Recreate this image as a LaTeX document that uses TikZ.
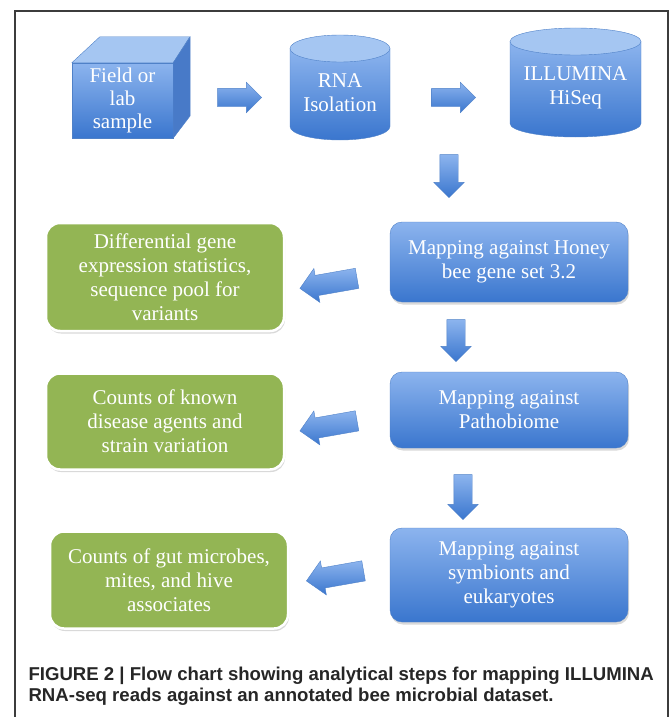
\documentclass[tikz,border=0pt]{standalone}
\usepackage{fontspec}
\setmainfont{Liberation Serif}
\newfontfamily\capfont{Liberation Sans}
\usetikzlibrary{shapes.arrows,shadows}
\definecolor{boxgreen}{RGB}{147,181,84}
\definecolor{bluetop}{RGB}{140,180,238}
\definecolor{bluebot}{RGB}{58,118,206}
\definecolor{blueedge}{RGB}{79,129,200}
\definecolor{cyltop}{RGB}{165,198,242}
\definecolor{cubeside}{RGB}{72,122,200}
\definecolor{framecol}{RGB}{60,60,60}
\tikzset{
  txt/.style={text=white, font=\fontsize{21}{24}\selectfont, align=center},
  bluebox/.style={txt, rounded corners=12pt, draw=blueedge, top color=bluetop, bottom color=bluebot,
    minimum width=238pt, minimum height=#1, drop shadow={opacity=0.3, shadow xshift=1pt, shadow yshift=-2.5pt}},
  greenbox/.style={txt, rounded corners=14pt, draw=white, line width=2.5pt, fill=boxgreen,
    minimum width=238pt, minimum height=#1, drop shadow={opacity=0.3, shadow xshift=1pt, shadow yshift=-2.5pt}},
  blockarr/.style={single arrow, draw=blueedge, top color=bluetop, bottom color=bluebot, inner xsep=0pt,
    inner ysep=9pt, single arrow head extend=6pt, minimum height=#1},
  widearr/.style={blockarr=#1, inner ysep=10pt, single arrow head extend=7pt},
}

\begin{document}
\begin{tikzpicture}[x=1pt, y=-1pt]
  \useasboundingbox (0,0) rectangle (670,717);
  \draw[framecol, line width=1.2pt] (15,717) |- (668,11) -- (668,717);

  % sample cube
  \node[txt, font=\fontsize{21}{23}\selectfont, inner sep=0pt, minimum width=101pt, minimum height=75pt,
    top color=bluetop, bottom color=bluebot, draw=blueedge] (sample) at (122.5,100.5) {Field or\\lab\\sample};
  \filldraw[fill=cyltop, draw=blueedge] (sample.north west) -- ++(28,-26) -- ++(90,0) -- (sample.north east) -- cycle;
  \filldraw[fill=cubeside, draw=blueedge] (sample.north east) -- ++(17,-26) -- ++(0,79) -- (sample.south east) -- cycle;

  % cylinders
  \foreach \n/\cx/\t/\b/\w/\lbl in {rna/340/35/140/100/{RNA\\Isolation}, seq/575.5/28/137/131/{ILLUMINA\\HiSeq}}{
    \shade[top color=bluetop, bottom color=bluebot, draw=blueedge]
      (\cx-\w/2,\t+13.5) -- (\cx-\w/2,\b-13.5) arc[start angle=180, end angle=0, x radius=\w/2, y radius=13.5]
      -- (\cx+\w/2,\t+13.5) -- cycle;
    \filldraw[fill=cyltop, draw=blueedge] (\cx,\t+13.5) ellipse[x radius=\w/2, y radius=13.5];
    \node[txt] (\n) at (\cx,{(\t+\b)/2+5}) {\lbl};
  }

  \node[bluebox=80pt] (honey) at (509,262) {Mapping against Honey\\bee gene set 3.2};
  \node[bluebox=76pt] (patho) at (509,410) {Mapping against\\Pathobiome};
  \node[bluebox=94pt] (symb) at (509,575) {Mapping against\\symbionts and\\eukaryotes};

  \node[greenbox=108pt] (degs) at (165,277) {Differential gene\\expression statistics,\\sequence pool for\\variants};
  \node[greenbox=96pt] (disease) at (165,421.5) {Counts of known\\disease agents and\\strain variation};
  \node[greenbox=97pt] (gut) at (169,580) {Counts of gut microbes,\\mites, and hive\\associates};

  \foreach \n/\x/\y/\rot/\len in {r1/235/97.5/0/44, r2/449/97.5/0/44, d1/449/171.5/-90/43, d2/456/336/-90/42,
      d3/463/492.5/-90/45}
    \node[blockarr=\len pt, rotate=\rot] (\n) at (\x,\y) {};
  \foreach \n/\x/\y in {l1/333.5/282.5, l2/333.5/425, l3/340/575}
    \node[widearr=58pt, rotate=190] (\n) at (\x,\y) {};

  \node[anchor=west, align=left, text=black!85, font=\capfont\bfseries\fontsize{18.6}{21}\selectfont] (caption) at (25,686)
    {FIGURE 2 | Flow chart showing analytical steps for mapping ILLUMINA\\RNA-seq reads against an annotated bee microbial dataset.};
\end{tikzpicture}
\end{document}
